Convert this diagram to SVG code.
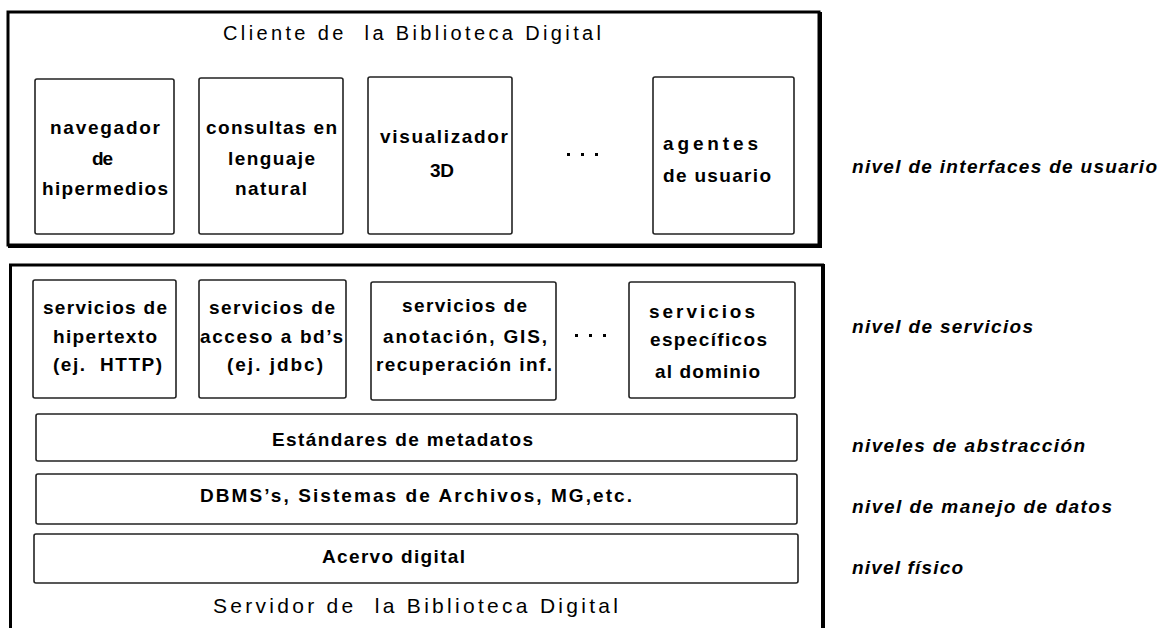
<svg xmlns="http://www.w3.org/2000/svg" width="1168" height="628" viewBox="0 0 1168 628">
<style>
.bg{fill:#fff}
.outer{fill:none;stroke:#000;stroke-width:3}
.shadow{stroke:#000;stroke-width:4;fill:none}
.box{fill:#fff;stroke:#222;stroke-width:1.6}
.t{font-family:"Liberation Sans",Arial,sans-serif;font-size:19px;font-weight:bold;fill:#000}
.title{font-family:"Liberation Sans",Arial,sans-serif;font-size:20px;fill:#000}
.lvl{font-family:"Liberation Sans",Arial,sans-serif;font-size:19px;font-weight:bold;font-style:italic;fill:#000}
.dot{fill:#000}
</style>
<rect class="bg" x="0" y="0" width="1168" height="628"/>

<g id="cliente">
  <rect class="outer" x="8" y="12" width="811" height="233"/>
  <path class="shadow" d="M820 12 V247 M8 246 H822"/>
  <text class="title" x="223" y="40" textLength="378" lengthAdjust="spacing">Cliente de &#160;la Biblioteca Digital</text>
</g>

<g id="navegador">
  <rect class="box" x="35" y="79" width="139" height="155" rx="2"/>
  <text class="t" x="50" y="134" textLength="110" lengthAdjust="spacing">navegador</text>
  <text class="t" x="92" y="165" textLength="21" lengthAdjust="spacing">de</text>
  <text class="t" x="42" y="195" textLength="126" lengthAdjust="spacing">hipermedios</text>
</g>
<g id="consultas">
  <rect class="box" x="199" y="78" width="144" height="156" rx="2"/>
  <text class="t" x="206" y="134" textLength="131" lengthAdjust="spacing">consultas en</text>
  <text class="t" x="228" y="165" textLength="87" lengthAdjust="spacing">lenguaje</text>
  <text class="t" x="235" y="195" textLength="72" lengthAdjust="spacing">natural</text>
</g>
<g id="visualizador">
  <rect class="box" x="368" y="77" width="144" height="157" rx="2"/>
  <text class="t" x="380" y="143" textLength="128" lengthAdjust="spacing">visualizador</text>
  <text class="t" x="430" y="177" textLength="24" lengthAdjust="spacing">3D</text>
</g>
<g id="dots-top">
  <rect class="dot" x="567" y="153" width="3" height="3"/>
  <rect class="dot" x="581" y="153" width="3" height="3"/>
  <rect class="dot" x="595" y="153" width="3" height="3"/>
</g>
<g id="agentes">
  <rect class="box" x="653" y="77" width="141" height="157" rx="2"/>
  <text class="t" x="663" y="150" textLength="95" lengthAdjust="spacing">agentes</text>
  <text class="t" x="663" y="182" textLength="108" lengthAdjust="spacing">de usuario</text>
</g>

<g id="servidor">
  <path class="outer" d="M10.5 630 V265 H822.5 V630"/>
  <path class="shadow" d="M823 264 V630"/>
  <text class="title" x="213" y="613" textLength="405" lengthAdjust="spacing" style="font-size:21px">Servidor de &#160;la Biblioteca Digital</text>
</g>

<g id="hipertexto">
  <rect class="box" x="33" y="280" width="143" height="118" rx="2"/>
  <text class="t" x="43" y="314" textLength="124" lengthAdjust="spacing">servicios de</text>
  <text class="t" x="53" y="343" textLength="104" lengthAdjust="spacing">hipertexto</text>
  <text class="t" x="53" y="371" textLength="109" lengthAdjust="spacing">(ej. &#160;HTTP)</text>
</g>
<g id="acceso-bd">
  <rect class="box" x="199" y="280" width="147" height="118" rx="2"/>
  <text class="t" x="209" y="314" textLength="126" lengthAdjust="spacing">servicios de</text>
  <text class="t" x="200" y="343" textLength="143" lengthAdjust="spacing">acceso a bd’s</text>
  <text class="t" x="227" y="371" textLength="96" lengthAdjust="spacing">(ej. jdbc)</text>
</g>
<g id="anotacion">
  <rect class="box" x="371" y="282" width="185" height="118" rx="2"/>
  <text class="t" x="402" y="312" textLength="125" lengthAdjust="spacing">servicios de</text>
  <text class="t" x="383" y="343" textLength="164" lengthAdjust="spacing">anotación, GIS,</text>
  <text class="t" x="376" y="371" textLength="176" lengthAdjust="spacing">recuperación inf.</text>
</g>
<g id="dots-mid">
  <rect class="dot" x="575" y="334" width="3" height="3"/>
  <rect class="dot" x="589" y="334" width="3" height="3"/>
  <rect class="dot" x="603" y="334" width="3" height="3"/>
</g>
<g id="especificos">
  <rect class="box" x="629" y="282" width="166" height="116" rx="2"/>
  <text class="t" x="649" y="318" textLength="106" lengthAdjust="spacing">servicios</text>
  <text class="t" x="650" y="346" textLength="117" lengthAdjust="spacing">específicos</text>
  <text class="t" x="655" y="378" textLength="105" lengthAdjust="spacing">al dominio</text>
</g>

<g id="metadatos">
  <rect class="box" x="36" y="414" width="761" height="47" rx="2"/>
  <text class="t" x="272" y="446" textLength="261" lengthAdjust="spacing">Estándares de metadatos</text>
</g>
<g id="dbms">
  <rect class="box" x="36" y="474" width="761" height="50" rx="2"/>
  <text class="t" x="200" y="502" textLength="432" lengthAdjust="spacing">DBMS’s, Sistemas de Archivos, MG,etc.</text>
</g>
<g id="acervo">
  <rect class="box" x="34" y="534" width="764" height="49" rx="2"/>
  <text class="t" x="322" y="563" textLength="143" lengthAdjust="spacing">Acervo digital</text>
</g>

<g id="niveles">
  <text class="lvl" x="852" y="173" textLength="305" lengthAdjust="spacing">nivel de interfaces de usuario</text>
  <text class="lvl" x="852" y="333" textLength="181" lengthAdjust="spacing">nivel de servicios</text>
  <text class="lvl" x="852" y="452" textLength="233" lengthAdjust="spacing">niveles de abstracción</text>
  <text class="lvl" x="852" y="513" textLength="260" lengthAdjust="spacing">nivel de manejo de datos</text>
  <text class="lvl" x="852" y="574" textLength="111" lengthAdjust="spacing">nivel físico</text>
</g>

<g id="connectors"></g>
</svg>
